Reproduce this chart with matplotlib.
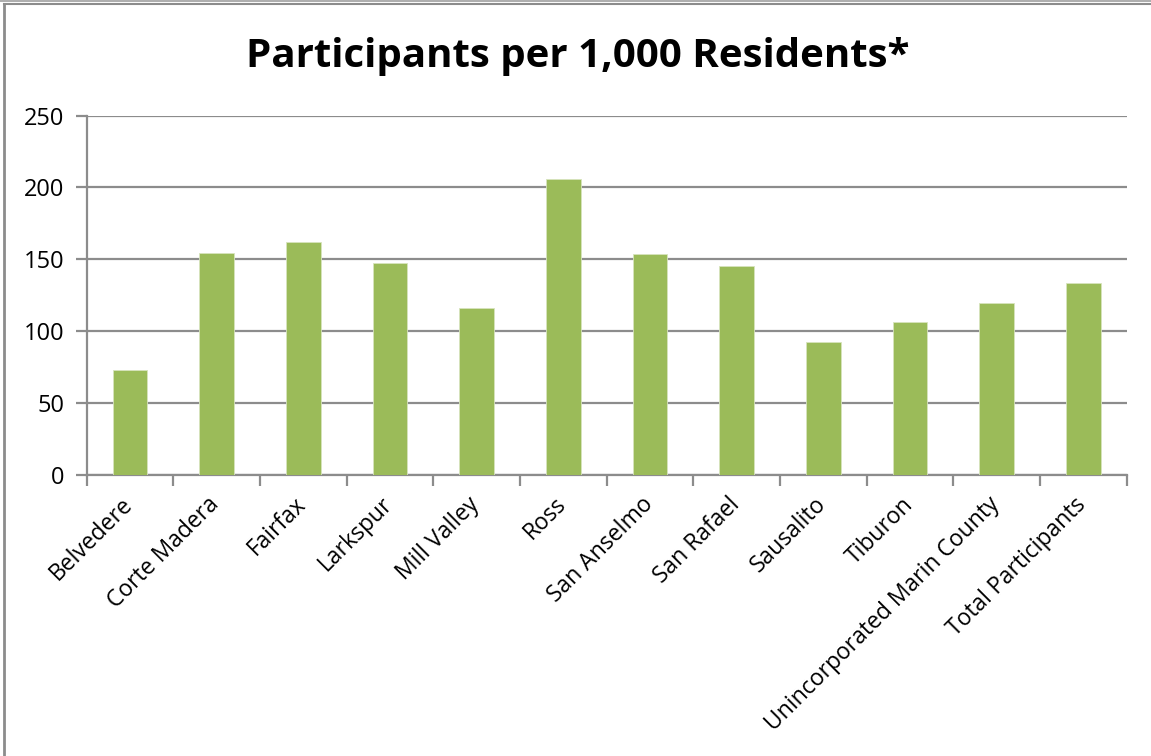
import matplotlib
matplotlib.use("Agg")
import matplotlib.pyplot as plt
from matplotlib.lines import Line2D
import matplotlib.transforms as mtransforms
import numpy as np

categories = ["Belvedere", "Corte Madera", "Fairfax", "Larkspur", "Mill Valley", "Ross",
              "San Anselmo", "San Rafael", "Sausalito", "Tiburon",
              "Unincorporated Marin County", "Total Participants"]
values = [73, 154.5, 162.3, 147.1, 116.3, 205.9, 153.8, 145.4, 92.2, 106.3, 119.8, 133.5]
yticks = [0, 50, 100, 150, 200, 250]
title = "Participants per 1,000 Residents*"

plt.rcParams['font.family'] = ['Open Sans', 'DejaVu Sans']

W, H = 1151, 756
fig = plt.figure(figsize=(W / 100, H / 100), dpi=100)
ax = fig.add_axes([86.5 / W, 1 - 474.5 / H, (1126.7 - 86.5) / W, (474.5 - 115.7) / H])

x = np.arange(len(categories))
ax.bar(x, values, width=0.40, color="#9BBB59", edgecolor="#D7E4BD", linewidth=0.6, zorder=3)

ax.set_xlim(-0.5, len(categories) - 0.5)
ax.set_ylim(0, 250)
ax.set_yticks(yticks)
ax.set_yticklabels([str(v) for v in yticks], fontsize=17)
ax.yaxis.grid(True, color="#8C8C8C", linewidth=1.6, zorder=0)
ax.set_axisbelow(True)

ax.set_xticks(x)
ax.set_xticklabels(categories, rotation=45, ha="right", va="top", rotation_mode="anchor", fontsize=16.5)
ax.tick_params(axis="x", which="major", length=0, pad=13)
ax.set_xticks(np.arange(-0.5, len(categories) + 0.5, 1), minor=True)
ax.tick_params(axis="x", which="minor", length=8, width=1.6, color="#8C8C8C", direction="out")
ax.tick_params(axis="y", length=8, width=1.6, color="#8C8C8C", direction="out", pad=8)

offset = mtransforms.ScaledTranslation(-9 / 100, 0, fig.dpi_scale_trans)
for lbl in ax.get_xticklabels():
    lbl.set_transform(lbl.get_transform() + offset)

for s in ["top", "right"]:
    ax.spines[s].set_visible(False)
for s in ["left", "bottom"]:
    ax.spines[s].set_color("#8C8C8C")
    ax.spines[s].set_linewidth(1.6)

fig.text(0.502, 0.925, title, ha="center", va="center", fontsize=29, fontweight="bold")

# outer chart border
fig.add_artist(Line2D([3.5 / W, 3.5 / W], [0, 1 - 4 / H], transform=fig.transFigure, color="#8C8C8C", lw=2))
fig.add_artist(Line2D([3.5 / W, 1], [1 - 4 / H, 1 - 4 / H], transform=fig.transFigure, color="#8C8C8C", lw=1.5))
fig.add_artist(Line2D([0, 1], [1 - 1 / H, 1 - 1 / H], transform=fig.transFigure, color="#A0A0A0", lw=1.2))

fig.savefig("out.png", dpi=100)
